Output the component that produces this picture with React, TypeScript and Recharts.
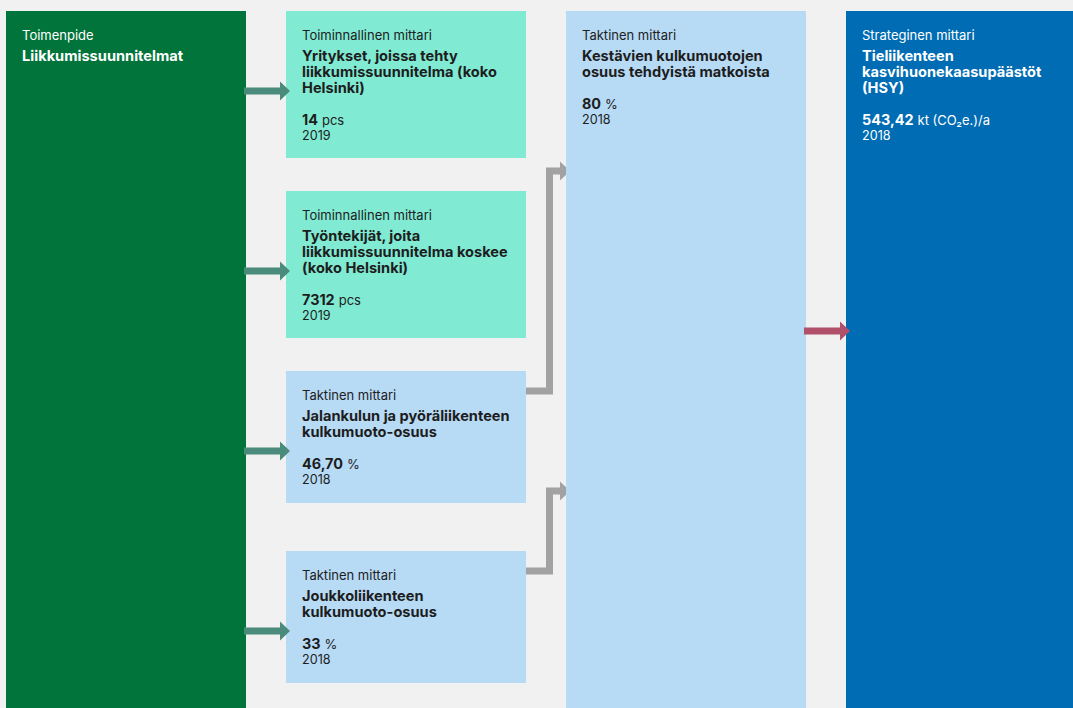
import React from 'react'
import {ComposedChart, ReferenceArea, XAxis, YAxis} from 'recharts'

// values
const actionLabel = 'Toimenpide'
const actionName = ['Liikkumissuunnitelmat']

const meterTypes = [
    'Toiminnallinen mittari',
    'Toiminnallinen mittari',
    'Taktinen mittari',
    'Taktinen mittari',
    'Taktinen mittari',
    'Strateginen mittari',
]
const meterNames = [
    ['Yritykset, joissa tehty', 'liikkumissuunnitelma (koko', 'Helsinki)'],
    ['Työntekijät, joita', 'liikkumissuunnitelma koskee', '(koko Helsinki)'],
    ['Jalankulun ja pyöräliikenteen', 'kulkumuoto-osuus'],
    ['Joukkoliikenteen', 'kulkumuoto-osuus'],
    ['Kestävien kulkumuotojen', 'osuus tehdyistä matkoista'],
    ['Tieliikenteen', 'kasvihuonekaasupäästöt', '(HSY)'],
]
const meterValues = ['14', '7312', '46,70', '33', '80', '543,42']
const meterUnits = ['pcs', 'pcs', '%', '%', '%', 'kt (CO₂e.)/a']
const meterYears = ['2019', '2019', '2018', '2018', '2018', '2018']

// layout (pixels of the 1073x708 canvas)
const W = 1073
const H = 708
const colX = [6, 286, 566, 846]
const colW = [240, 240, 240, 227]
const rowY = [11, 191, 371, 551]
const rowH = [147, 147, 132, 132]

const BG = '#f1f1f1'
const GREEN = '#00743a'
const TEAL = '#80ead3'
const LIGHT = '#b7daf5'
const DARK = '#006cb3'
const INK = '#1d1d1d'
const FONT = 'Inter, "Noto Sans", sans-serif'

function arrow(x0: number, x1: number, y: number, color: string) {
    const pts = [
        [x0, y - 3.5], [x1 - 10, y - 3.5], [x1 - 10, y - 9.5], [x1, y],
        [x1 - 10, y + 9.5], [x1 - 10, y + 3.5], [x0, y + 3.5],
    ].map(p => p.join(',')).join(' ')
    return <polygon points={pts} fill={color}/>
}

function elbow(x: number, y: number, ty: number, tx: number) {
    const xv = x + 23.5
    return (
        <g>
            <polyline points={`${x},${y} ${xv},${y} ${xv},${ty} ${tx - 9},${ty}`}
                      fill="none" stroke="#a2a2a2" strokeWidth={7} strokeLinejoin="miter"/>
            <polygon points={`${tx - 10},${ty - 9.5} ${tx},${ty} ${tx - 10},${ty + 9.5}`} fill="#a2a2a2"/>
        </g>
    )
}

type CardOpts = {
    fill: string
    color: string
    label: string
    title: string[]
    value?: string
    unit?: string
    year?: string
    inArrow?: string
    inArrowY?: number
    outElbow?: number
}

function makeCard(o: CardOpts) {
    return (p: any) => {
        const {x, y, width, height} = p
        const tx = x + 16
        const titleY = y + 50
        const valY = titleY + (o.title.length - 1) * 16 + 32
        return (
            <g>
                <rect x={x} y={y} width={width} height={height} fill={o.fill}/>
                <text x={tx} y={y + 29} fill={o.color} fontFamily={FONT} fontSize={13} fontWeight={400}>
                    {o.label}
                </text>
                <text fill={o.color} fontFamily={FONT} fontSize={14.6} fontWeight={700}>
                    {o.title.map((t, i) => (
                        <tspan key={i} x={tx} y={titleY + i * 16}>{t}</tspan>
                    ))}
                </text>
                {o.value && (
                    <text x={tx} y={valY} fill={o.color} fontFamily={FONT}>
                        <tspan fontSize={14.4} fontWeight={700}>{o.value}</tspan>
                        <tspan fontSize={13} fontWeight={400} dx={4}>{o.unit}</tspan>
                    </text>
                )}
                {o.year && (
                    <text x={tx} y={valY + 15} fill={o.color} fontFamily={FONT} fontSize={12.6} fontWeight={400}>
                        {o.year}
                    </text>
                )}
                {o.inArrow && arrow(x - 42, x + 4, o.inArrowY ?? y + 80, o.inArrow)}
                {o.outElbow !== undefined && elbow(x + width, y + (height > 140 ? 40 : 20), o.outElbow, colX[2] + 4)}
            </g>
        )
    }
}

export default function App() {
    const metricFill = [TEAL, TEAL, LIGHT, LIGHT]
    const elbowTargets = [undefined, undefined, rowY[0] + 160, rowY[0] + 480]
    return (
        <div style={{width: W, height: H, background: BG}}>
            <style>{'body{margin:0}'}</style>
            <ComposedChart width={W} height={H} data={[{x: 0, y: 0}]}
                           margin={{top: 0, right: 0, bottom: 0, left: 0}}
                           style={{background: BG}}>
                <XAxis type="number" dataKey="x" hide domain={[0, W]} allowDataOverflow/>
                <YAxis type="number" dataKey="y" hide domain={[0, H]} reversed allowDataOverflow/>

                <ReferenceArea x1={colX[0]} x2={colX[0] + colW[0]} y1={rowY[0]} y2={H}
                               shape={makeCard({fill: GREEN, color: '#ffffff', label: actionLabel, title: actionName})}/>

                {rowY.map((ry, i) => (
                    <ReferenceArea key={i} x1={colX[1]} x2={colX[1] + colW[1]} y1={ry} y2={ry + rowH[i]}
                                   shape={makeCard({
                                       fill: metricFill[i], color: INK, label: meterTypes[i], title: meterNames[i],
                                       value: meterValues[i], unit: meterUnits[i], year: meterYears[i],
                                       inArrow: '#4b8b7b',
                                       outElbow: elbowTargets[i],
                                   })}/>
                ))}

                <ReferenceArea x1={colX[2]} x2={colX[2] + colW[2]} y1={rowY[0]} y2={H}
                               shape={makeCard({
                                   fill: LIGHT, color: INK, label: meterTypes[4], title: meterNames[4],
                                   value: meterValues[4], unit: meterUnits[4], year: meterYears[4],
                               })}/>

                <ReferenceArea x1={colX[3]} x2={colX[3] + colW[3]} y1={rowY[0]} y2={H}
                               shape={makeCard({
                                   fill: DARK, color: '#ffffff', label: meterTypes[5], title: meterNames[5],
                                   value: meterValues[5], unit: meterUnits[5], year: meterYears[5],
                                   inArrow: '#b0506a', inArrowY: 331,
                               })}/>
            </ComposedChart>
        </div>
    )
}
